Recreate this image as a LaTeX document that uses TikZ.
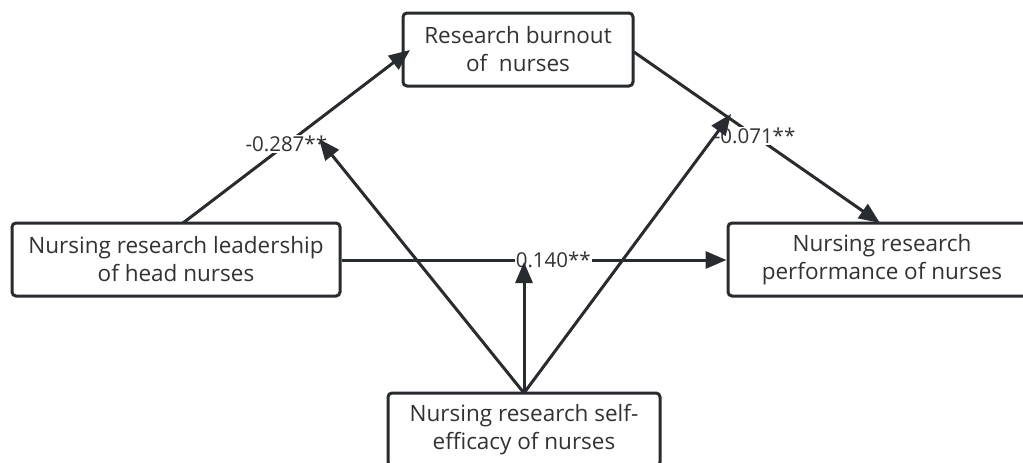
\documentclass[tikz,border=0pt]{standalone}
\usepackage{fontspec}
\setmainfont{Open Sans}
\usetikzlibrary{arrows.meta}
\definecolor{linec}{RGB}{40,43,48}
\definecolor{textc}{RGB}{50,50,50}
\tikzset{
  box/.style={draw=linec, line width=3pt, rounded corners=4pt, fill=white,
    inner sep=0pt, align=center, text=textc,
    font=\fontsize{22.5}{28}\selectfont},
  conn/.style={draw=linec, line width=3pt,
    -{Triangle[length=21pt,width=17pt]}},
  coef/.style={fill=white, inner sep=1pt, text=textc,
    font=\fontsize{20.5}{24}\selectfont},
}
\begin{document}
\begin{tikzpicture}[x=1pt,y=-1pt]
  \clip (0,0) rectangle (1023,463);
  \fill[white] (0,0) rectangle (1023,463);

  % variables
  \node[box, minimum width=328pt, minimum height=73pt] (lead) at (176,259.5)
    {Nursing research leadership\\of head nurses};
  \node[box, minimum width=230pt, minimum height=73pt] (burn) at (518,49.5)
    {Research burnout\\of\ \ nurses};
  \node[box, minimum width=308pt, minimum height=73pt] (perf) at (882,259.5)
    {Nursing research\\performance of nurses};
  \node[box, minimum width=272pt, minimum height=73pt] (eff) at (524,429.5)
    {Nursing research self-\\efficacy of nurses};

  % anchor points of the paths
  \coordinate (a1) at (183,223);
  \coordinate (a2) at (410,50);
  \coordinate (b1) at (634,52);
  \coordinate (b2) at (880,223);
  \coordinate (c0) at (524,393);
  \coordinate (t1) at (319,139);
  \coordinate (t2) at (731,114);
  \coordinate (t3) at (524,262);

  % main paths with coefficients
  \draw[conn] (a1) -- node[coef, pos=0.455] (k1) {-0.287**} (a2);
  \draw[conn] (b1) -- node[coef, pos=0.49] (k2) {-0.071**} (b2);
  \draw[conn] (lead.east |- 0,260) -- node[coef, pos=0.55] (k3) {0.140**} (perf.west |- 0,260);

  % moderating paths
  \draw[conn] (c0) -- (t1);
  \draw[conn] (c0) -- (t2);
  \draw[conn] (c0) -- (t3);
\end{tikzpicture}
\end{document}
